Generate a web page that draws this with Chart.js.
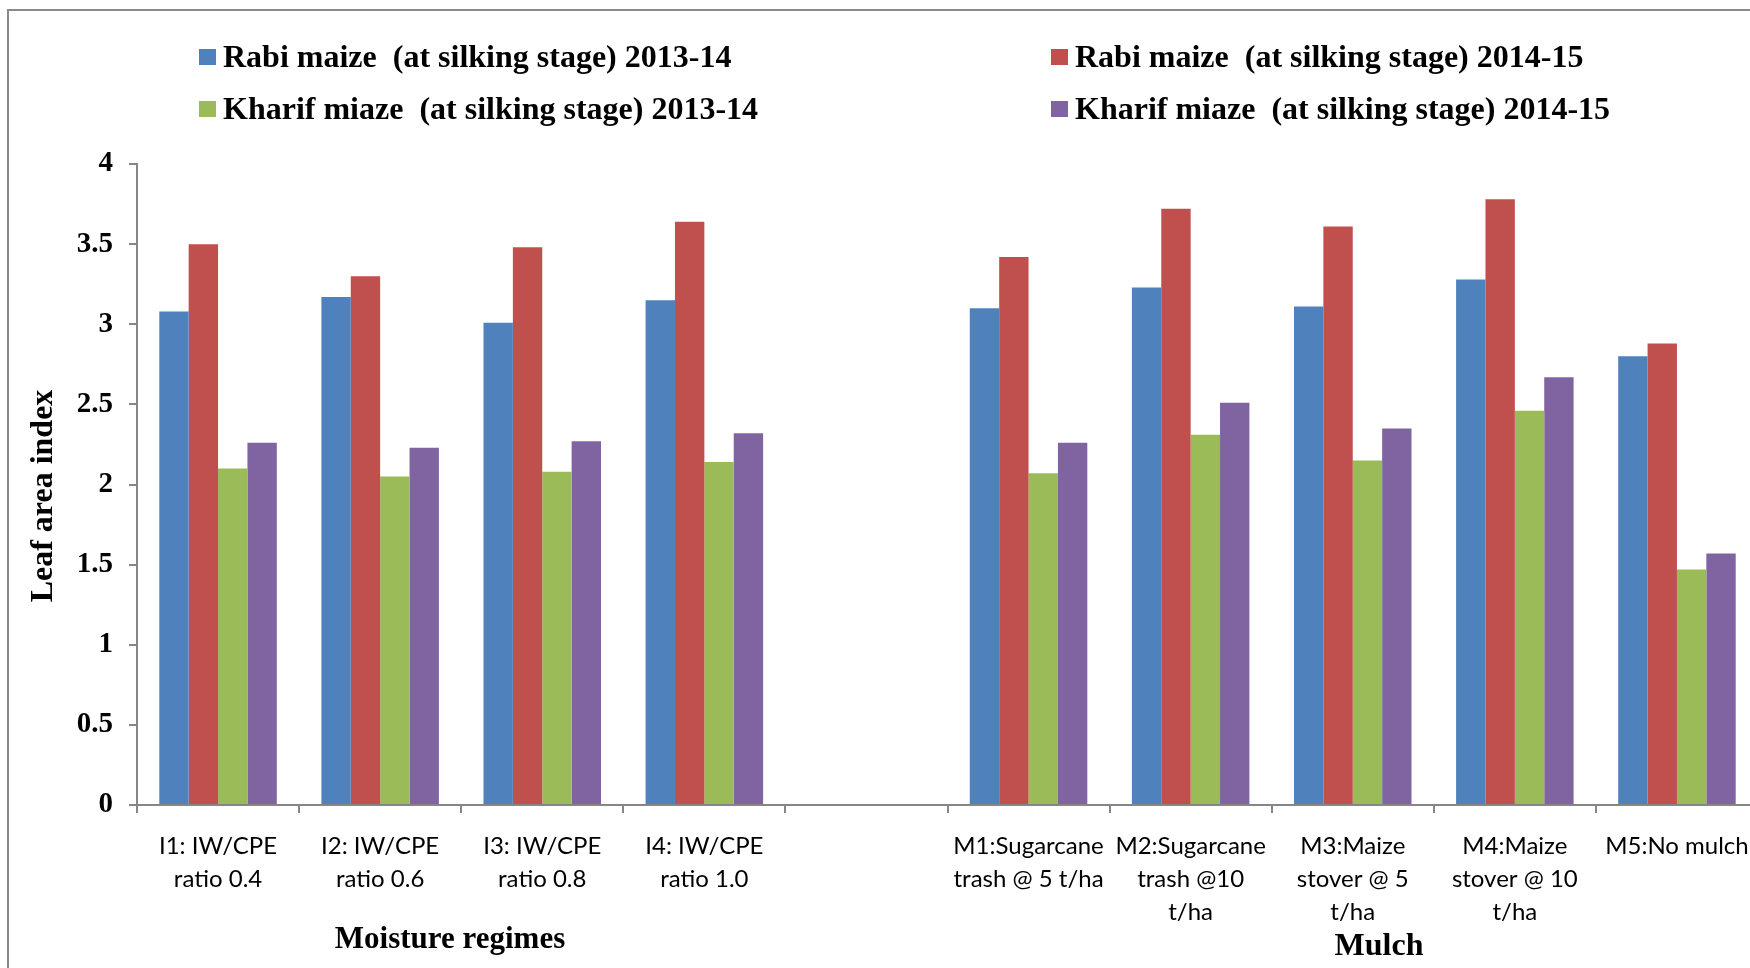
<!DOCTYPE html>
<html>
<head>
<meta charset="utf-8">
<script src="https://cdn.jsdelivr.net/npm/chart.js@4.4.1/dist/chart.umd.min.js"></script>
<style>
  html, body { margin: 0; padding: 0; background: #fff; width: 1750px; height: 968px; overflow: hidden; }
  #wrap { position: absolute; left: 0; top: 0; width: 1830px; height: 1000px; }
  canvas { display: block; }
</style>
</head>
<body>
<div id="wrap"><canvas id="lai" width="1830" height="1000"></canvas></div>
<script>
// Treatments on the x axis (the blank slot separates irrigation from mulch)
const categories = [
  ["I1: IW/CPE", "ratio 0.4"],
  ["I2: IW/CPE", "ratio 0.6"],
  ["I3: IW/CPE", "ratio 0.8"],
  ["I4: IW/CPE", "ratio 1.0"],
  "",
  ["M1:Sugarcane", "trash @ 5 t/ha"],
  ["M2:Sugarcane", "trash @10", "t/ha"],
  ["M3:Maize", "stover @ 5", "t/ha"],
  ["M4:Maize", "stover @ 10", "t/ha"],
  ["M5:No mulch"]
];

const seriesNames = [
  "Rabi maize  (at silking stage) 2013-14",
  "Rabi maize  (at silking stage) 2014-15",
  "Kharif miaze  (at silking stage) 2013-14",
  "Kharif miaze  (at silking stage) 2014-15"
];
const seriesColors = ["#4F81BD", "#C0504D", "#9BBB59", "#8064A2"];

// Leaf area index at silking
const rabi2013   = [3.08, 3.17, 3.01, 3.15, null, 3.10, 3.23, 3.11, 3.28, 2.80];
const rabi2014   = [3.50, 3.30, 3.48, 3.64, null, 3.42, 3.72, 3.61, 3.78, 2.88];
const kharif2013 = [2.10, 2.05, 2.08, 2.14, null, 2.07, 2.31, 2.15, 2.46, 1.47];
const kharif2014 = [2.26, 2.23, 2.27, 2.32, null, 2.26, 2.51, 2.35, 2.67, 1.57];

const yMin = 0, yMax = 4, yStep = 0.5;
const yTitle = "Leaf area index";
const groupTitles = ["Moisture regimes", "Mulch"];

const seriesValues = [rabi2013, rabi2014, kharif2013, kharif2014];

const AXIS_GREY = "#868686";
const SERIF = "'Liberation Serif', 'Times New Roman', serif";

// Outer frame around the figure
const framePlugin = {
  id: "frame",
  beforeDraw(chart) {
    const ctx = chart.ctx;
    ctx.save();
    ctx.strokeStyle = "#8a8a8a";
    ctx.lineWidth = 2;
    ctx.beginPath();
    ctx.moveTo(8, 3000);
    ctx.lineTo(8, 10);
    ctx.lineTo(3000, 10);
    ctx.stroke();
    ctx.restore();
  }
};

// Two-column legend, axis title and group titles
const textPlugin = {
  id: "texts",
  afterDraw(chart) {
    const ctx = chart.ctx;
    ctx.save();
    ctx.fillStyle = "#000";
    ctx.textBaseline = "alphabetic";

    // legend: row-major, two items per row
    const colX = [199, 1051];
    const rowY = [49, 101];
    ctx.font = "bold 32px " + SERIF;
    ctx.textAlign = "left";
    chart.data.datasets.forEach((ds, i) => {
      const x = colX[i % 2];
      const y = rowY[Math.floor(i / 2)];
      ctx.fillStyle = ds.backgroundColor;
      ctx.fillRect(x, y, 17, 16);
      ctx.fillStyle = "#000";
      ctx.fillText(ds.label, x + 24, y + 18);
    });

    // y-axis title
    ctx.save();
    ctx.translate(52, 496);
    ctx.rotate(-Math.PI / 2);
    ctx.textAlign = "center";
    ctx.font = "bold 32px " + SERIF;
    ctx.fillText(yTitle, 0, 0);
    ctx.restore();

    // group titles under the category labels
    ctx.textAlign = "center";
    ctx.font = "bold 31px " + SERIF;
    ctx.fillText(groupTitles[0], 450, 948);
    ctx.font = "bold 32px " + SERIF;
    ctx.fillText(groupTitles[1], 1379, 955);
    ctx.restore();
  }
};

new Chart(document.getElementById("lai"), {
  type: "bar",
  data: {
    labels: categories,
    datasets: seriesValues.map((vals, i) => ({
      label: seriesNames[i],
      data: vals,
      backgroundColor: seriesColors[i],
      borderWidth: 0
    }))
  },
  options: {
    responsive: false,
    animation: false,
    devicePixelRatio: 1,
    layout: { padding: { top: 164, right: 72, left: 0, bottom: 0 } },
    datasets: { bar: { categoryPercentage: 0.725, barPercentage: 1.0 } },
    plugins: { legend: { display: false }, tooltip: { enabled: false } },
    scales: {
      x: {
        offset: true,
        grid: { display: true, offset: true, drawOnChartArea: false, drawTicks: true, tickLength: 8, color: AXIS_GREY, lineWidth: 2 },
        border: { display: true, color: AXIS_GREY, width: 2 },
        ticks: {
          color: "#000",
          font: { family: "Lato", size: 24, lineHeight: 1.375 },
          maxRotation: 0, minRotation: 0, autoSkip: false, padding: 17
        },
        afterFit(scale) { scale.height = 195; }
      },
      y: {
        min: yMin, max: yMax,
        grid: { drawOnChartArea: false, drawTicks: true, tickLength: 8, color: AXIS_GREY, lineWidth: 2 },
        border: { display: true, color: AXIS_GREY, width: 2 },
        ticks: {
          stepSize: yStep,
          color: "#000",
          font: { family: SERIF, size: 29, weight: "bold" },
          padding: 16,
          callback: (v) => String(Math.round(v * 10) / 10)
        },
        afterFit(scale) { scale.width = 137; }
      }
    }
  },
  plugins: [framePlugin, textPlugin]
});
</script>
</body>
</html>
